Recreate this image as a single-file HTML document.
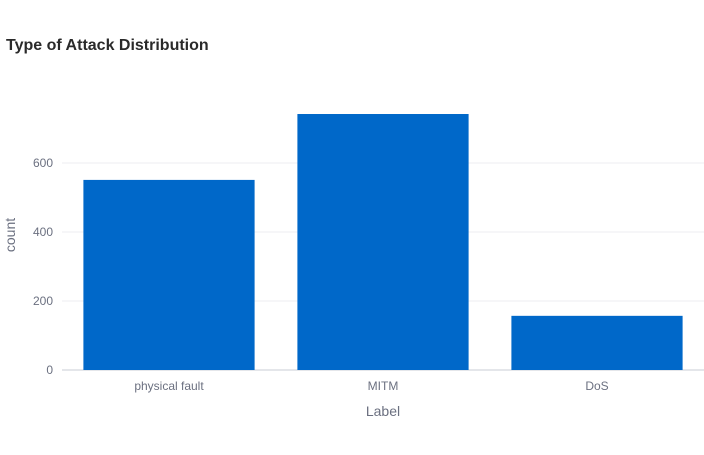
<!DOCTYPE html>
<html><head><meta charset="utf-8">
<style>
body{margin:0;background:#fff;font-family:"Liberation Sans",Arial,sans-serif;}
svg text{font-family:"Liberation Sans",Arial,sans-serif;}
</style></head>
<body>
<svg width="704" height="450">
<rect width="704" height="450" fill="#fff"/>
<text x="6" y="50" font-size="16" font-weight="bold" fill="#2a2a2a">Type of Attack Distribution</text>
<g id="grid"></g>
<g id="bars"></g>
<g id="xt"></g>
<text x="383" y="416" font-size="14" fill="#6b7080" text-anchor="middle">Label</text>
<text transform="translate(15,235) rotate(-90)" font-size="14" fill="#6b7080" text-anchor="middle">count</text>
</svg>
<script>
const categories=["physical fault","MITM","DoS"];
const counts=[551,742,157];
const yTicks=[0,200,400,600];
const x0=62,x1=704,yBase=370,pxPerUnit=207/600;
const ns="http://www.w3.org/2000/svg";
function y(v){return yBase-v*pxPerUnit;}
const band=(x1-x0)/categories.length;
function bx(i){return x0+i*band;}
const grid=document.getElementById('grid'),bars=document.getElementById('bars'),xt=document.getElementById('xt');
yTicks.forEach(t=>{
 const l=document.createElementNS(ns,'line');
 l.setAttribute('x1',x0);l.setAttribute('x2',x1);l.setAttribute('y1',y(t));l.setAttribute('y2',y(t));
 l.setAttribute('stroke',t===0?'#e4e6ea':'#eceef1');l.setAttribute('stroke-width',t===0?2:1);
 
 
 grid.appendChild(l);
 const tx=document.createElementNS(ns,'text');
 tx.setAttribute('x',53);tx.setAttribute('y',y(t)+4);tx.setAttribute('font-size',12);tx.setAttribute('fill','#6b7080');tx.setAttribute('text-anchor','end');
 tx.textContent=t;
 
 
 grid.appendChild(tx);
});
categories.forEach((c,i)=>{
 const w=band*0.8;
 const r=document.createElementNS(ns,'rect');
 r.setAttribute('x',bx(i)+band*0.1);r.setAttribute('width',w);
 r.setAttribute('y',y(counts[i]));r.setAttribute('height',yBase-y(counts[i]));
 r.setAttribute('fill','#0068c9');
 
 
 bars.appendChild(r);
 const tx=document.createElementNS(ns,'text');
 tx.setAttribute('x',bx(i)+band/2);tx.setAttribute('y',390);tx.setAttribute('font-size',12);tx.setAttribute('fill','#6b7080');tx.setAttribute('text-anchor','middle');
 tx.textContent=c;
 
 
 xt.appendChild(tx);
});
</script>
</body></html>
